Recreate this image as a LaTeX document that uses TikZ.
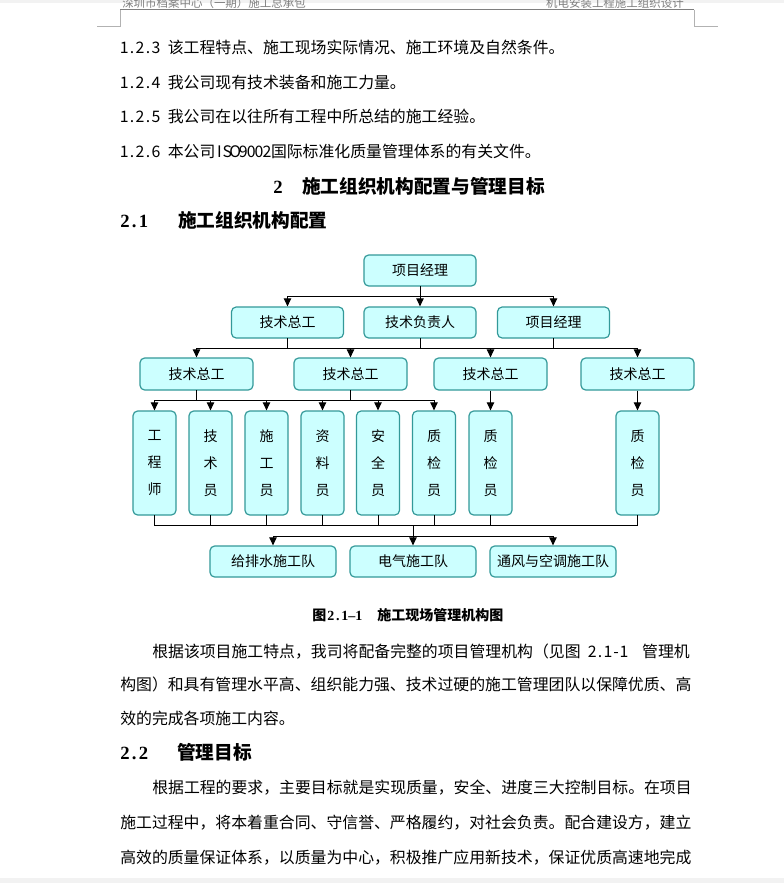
\documentclass[tikz,border=0pt]{standalone}
\usepackage{fontspec}
\setmainfont{Noto Sans CJK SC}
\newfontfamily\serifnum{Liberation Serif}
\usetikzlibrary{arrows.meta}
\definecolor{boxfill}{HTML}{CCFFFF}
\definecolor{boxline}{HTML}{339999}
\definecolor{hdrgray}{HTML}{7F7F7F}
\makeatletter
\def\HW#1{\HW@loop#1\relax}
\def\HW@loop#1{\ifx#1\relax\else\makebox[0.5em]{#1}\expandafter\HW@loop\fi}
\makeatother
\tikzset{
  box/.style={draw=boxline, fill=boxfill, line width=0.9pt, rounded corners=3.5pt,
    inner sep=0pt, font=\fontsize{10.5pt}{12pt}\selectfont},
  wbox/.style={box, minimum width=84pt, minimum height=23.25pt},
  rbox/.style={box, minimum width=84.75pt, minimum height=24pt},
  tbox/.style={box, minimum width=32.25pt, minimum height=78pt, align=center,
    font=\fontsize{10.5pt}{20.25pt}\selectfont},
  bbox/.style={box, minimum width=94.5pt, minimum height=23.25pt},
  conn/.style={line width=0.75pt, black, line cap=rect},
  arr/.style={line width=0.75pt, black, -{Triangle[width=5.5pt,length=6pt]}},
  body/.style={anchor=base west, inner sep=0pt, font=\fontsize{11.9pt}{14pt}\selectfont},
  bodyr/.style={body, anchor=base east},
  head/.style={anchor=base west, inner sep=0pt, font=\fontsize{14pt}{16pt}\selectfont\bfseries},
  headnum/.style={head, font=\fontsize{14pt}{16pt}\selectfont\serifnum\bfseries},
  captext/.style={anchor=base west, inner sep=0pt, font=\fontsize{10.5pt}{12pt}\selectfont\bfseries},
  capnum/.style={captext, font=\fontsize{10.5pt}{12pt}\selectfont\serifnum\bfseries},
  hdr/.style={inner sep=0pt, text=hdrgray, font=\fontsize{8.6pt}{10pt}\selectfont},
  cornermark/.style={line width=0.75pt, gray!60}
}
\begin{document}
\begin{tikzpicture}[x=0.75pt,y=-0.75pt]
\useasboundingbox (0,0) rectangle (784,883);
\fill[white] (0,0) rectangle (784,883);
\fill[gray!10] (0,0) rectangle (784,3);
\fill[gray!10] (0,878) rectangle (784,883);
% header
\begin{scope}
\clip (0,0) rectangle (784,883);
\node[hdr, anchor=base west] (hl) at (122,7.5) {深圳市档案中心（一期）施工总承包};
\node[hdr, anchor=base east] (hr) at (684,7.5) {机电安装工程施工组织设计};
\end{scope}
\draw[hdrgray, line width=0.75pt] (120,9.5) -- (694,9.5);
\draw[cornermark] (120,9.5) -- (120,26) -- (97,26);
\draw[cornermark] (694,9.5) -- (694,26) -- (718,26);
% body text top
\node[body] (l1) at (120,53.5) {\HW{1.2.3~}该工程特点、施工现场实际情况、施工环境及自然条件。};
\node[body] (l2) at (120,88.2) {\HW{1.2.4~}我公司现有技术装备和施工力量。};
\node[body] (l3) at (120,122.9) {\HW{1.2.5~}我公司在以往所有工程中所总结的施工经验。};
\node[body] (l4) at (120,157.6) {\HW{1.2.6~}本公司\HW{ISO9002}国际标准化质量管理体系的有关文件。};
\node[headnum] (h1n) at (273,193) {2};
\node[head] (h1) at (302,193) {施工组织机构配置与管理目标};
\node[headnum] (h2n) at (120,227.5) {\HW{2.1}};
\node[head] (h2) at (178,227.5) {施工组织机构配置};
% chart
\node[wbox] (pm) at (420,270.5) {项目经理};
\node[wbox] (b1) at (287.5,322.5) {技术总工};
\node[wbox] (b2) at (420,322.5) {技术负责人};
\node[wbox] (b3) at (553.5,322.5) {项目经理};
\node[rbox] (c1) at (196.5,374) {技术总工};
\node[rbox] (c2) at (350.5,374) {技术总工};
\node[rbox] (c3) at (490.5,374) {技术总工};
\node[rbox] (c4) at (637.5,374) {技术总工};
\node[tbox] (t1) at (154.5,463) {工\\程\\师};
\node[tbox] (t2) at (210.5,463) {技\\术\\员};
\node[tbox] (t3) at (266.5,463) {施\\工\\员};
\node[tbox] (t4) at (322.5,463) {资\\料\\员};
\node[tbox] (t5) at (378,463) {安\\全\\员};
\node[tbox] (t6) at (434,463) {质\\检\\员};
\node[tbox] (t7) at (490.5,463) {质\\检\\员};
\node[tbox] (t8) at (637.5,463) {质\\检\\员};
\node[bbox] (d1) at (273,561.5) {给排水施工队};
\node[bbox] (d2) at (413,561.5) {电气施工队};
\node[bbox] (d3) at (553,561.5) {通风与空调施工队};
% connectors
\draw[conn] (pm.south) -- ++(0,10) coordinate (j1);
\draw[conn] (j1 -| b1) -- (j1 -| b3);
\foreach \n in {b1,b2,b3} \draw[arr] (j1 -| \n) -- (\n.north);
\coordinate (j2) at (0,348);
\foreach \n in {b1,b2,b3} \draw[conn] (\n.south) -- (j2 -| \n);
\draw[conn] (j2 -| c1) -- (j2 -| c4);
\foreach \n in {c1,c2,c3,c4} \draw[arr] (j2 -| \n) -- (\n.north);
\coordinate (j3) at (0,400);
\foreach \n in {c1,c2} \draw[conn] (\n.south) -- (j3 -| \n);
\draw[conn] (j3 -| t1) -- (j3 -| t6);
\foreach \n in {t1,t2,t3,t4,t5,t6} \draw[arr] (j3 -| \n) -- (\n.north);
\draw[arr] (c3.south) -- (t7.north);
\draw[arr] (c4.south) -- (t8.north);
\coordinate (j4) at (0,525);
\coordinate (j5) at (0,536);
\foreach \n in {t1,t2,t3,t4,t5,t6,t7,t8} \draw[conn] (\n.south) -- (j4 -| \n);
\draw[conn] (j4 -| t1) -- (j4 -| t8);
\draw[arr] (j4 -| d2) -- (d2.north);
\draw[conn] (j5 -| d1) -- (j5 -| d3);
\draw[arr] (j5 -| d1) -- (d1.north);
\draw[arr] (j5 -| d3) -- (d3.north);
% caption
\node[captext] (cp1) at (312,620.5) {图};
\node[capnum] (cp2) at (327,620.5) {\HW{2.1–1}};
\node[captext] (cp3) at (377,620.5) {施工现场管理机构图};
% paragraphs
\node[body] (p1a) at (152,657) {根据该项目施工特点，我司将配备完整的项目管理机构（见图};
\node[body] (p1b) at (588,657) {\HW{2.1-1}};
\node[bodyr] (p1c) at (690,657) {管理机};
\node[body] (p2) at (120,690.5) {构图）和具有管理水平高、组织能力强、技术过硬的施工管理团队以保障优质、高};
\node[body] (p3) at (120,724) {效的完成各项施工内容。};
\node[headnum] (h3n) at (120,759) {\HW{2.2}};
\node[head] (h3) at (177,759) {管理目标};
\node[body] (q1) at (152,793) {根据工程的要求，主要目标就是实现质量，安全、进度三大控制目标。在项目};
\node[body] (q2) at (120,828) {施工过程中，将本着重合同、守信誉、严格履约，对社会负责。配合建设方，建立};
\node[body] (q3) at (120,863) {高效的质量保证体系，以质量为中心，积极推广应用新技术，保证优质高速地完成};
\end{tikzpicture}
\end{document}
